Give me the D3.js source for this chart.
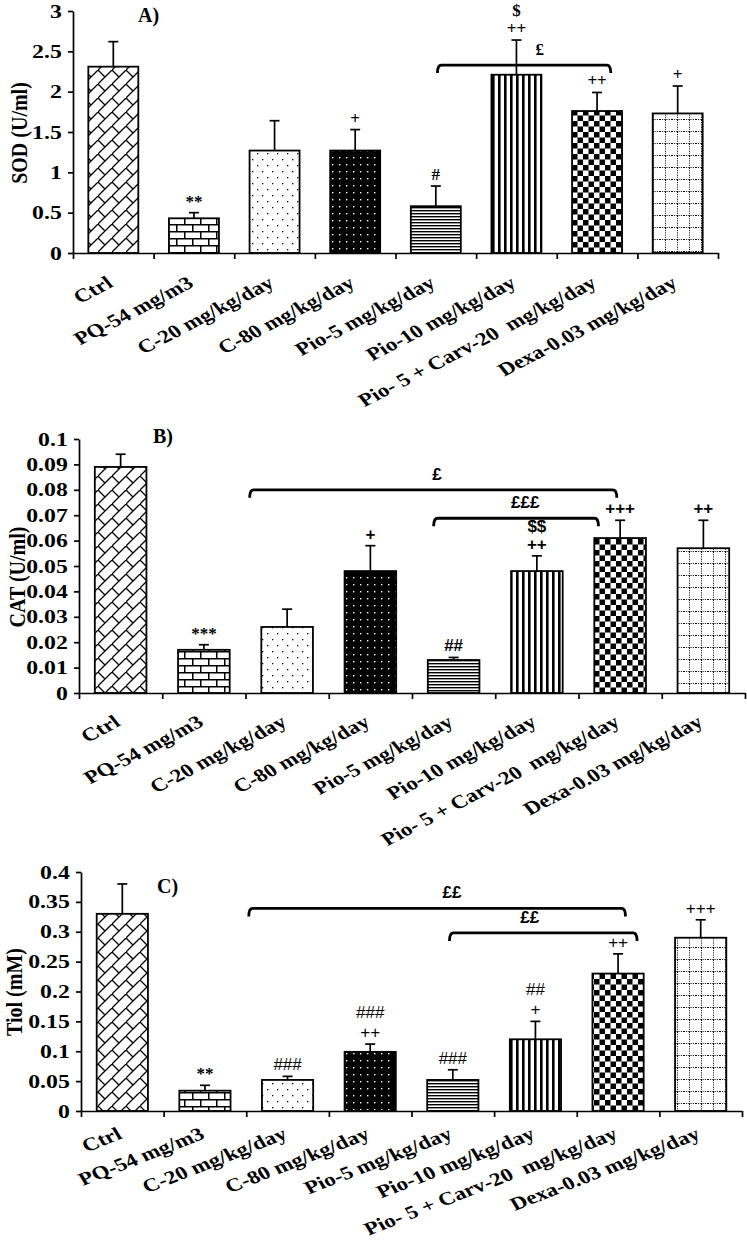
<!DOCTYPE html>
<html>
<head>
<meta charset="utf-8">
<script src="https://cdn.jsdelivr.net/npm/d3@7/dist/d3.min.js"></script>
<style>
  html, body { margin: 0; padding: 0; background: #fff; }
  svg { display: block; }
</style>
</head>
<body>
<div id="chart"></div>
<script>
// groups on the x axis
const categories = [
    'Ctrl',
    'PQ-54 mg/m3',
    'C-20 mg/kg/day',
    'C-80 mg/kg/day',
    'Pio-5 mg/kg/day',
    'Pio-10 mg/kg/day',
    'Pio- 5 + Carv-20  mg/kg/day',
    'Dexa-0.03 mg/kg/day'
];

// A) SOD (U/ml)
const sodMean = [2.31, 0.43, 1.27, 1.27, 0.58, 2.21, 1.76, 1.73];
const sodErr = [0.31, 0.07, 0.37, 0.26, 0.25, 0.43, 0.23, 0.34];
const sodTicks = [0, 0.5, 1, 1.5, 2, 2.5, 3];
const sodMarks = [[], ['**'], [], ['+'], ['#'], ['++', '$'], ['++'], ['+']];
const sodBrackets = [{ from: 4.52, to: 6.67, level: 2.33, labelAt: 5.79, label: '£' }];

// B) CAT (U/ml)
const catMean = [0.089, 0.017, 0.026, 0.048, 0.013, 0.048, 0.061, 0.057];
const catErr = [0.005, 0.002, 0.007, 0.010, 0.001, 0.006, 0.007, 0.011];
const catTicks = [0, 0.01, 0.02, 0.03, 0.04, 0.05, 0.06, 0.07, 0.08, 0.09, 0.1];
const catMarks = [[], ['***'], [], ['+'], ['##'], ['++', '$$'], ['+++'], ['++']];
const catBrackets = [
    { from: 2.05, to: 6.46, level: 0.080, labelAt: 4.30, label: '£' },
    { from: 4.26, to: 6.24, level: 0.0688, labelAt: 5.36, label: '£££' }
];

// C) Tiol (mM)
const tiolMean = [0.33, 0.034, 0.052, 0.099, 0.052, 0.12, 0.23, 0.29];
const tiolErr = [0.05, 0.009, 0.006, 0.013, 0.017, 0.03, 0.033, 0.03];
const tiolTicks = [0, 0.05, 0.1, 0.15, 0.2, 0.25, 0.3, 0.35, 0.4];
const tiolMarks = [[], ['**'], ['###'], ['++', '###'], ['###'], ['+', '##'], ['++'], ['+++']];
const tiolBrackets = [
    { from: 2.03, to: 6.59, level: 0.339, labelAt: 4.49, label: '££' },
    { from: 4.46, to: 6.73, level: 0.298, labelAt: 5.43, label: '££' }
];

const patternIds = ['diagBrick', 'hBrick', 'sparseDots', 'darkDots', 'hLines', 'vStripes', 'checker', 'dotGrid'];

const SERIF = '"Liberation Serif", "Times New Roman", serif';
const SANS = '"Liberation Sans", Arial, sans-serif';
// the source figure is a little wider than tall, text looks stretched sideways
const STRETCH = 1.25;

const panels = [
    { tag: 'A)', title: 'SOD (U/ml)', mean: sodMean, err: sodErr, ticks: sodTicks, marks: sodMarks,
        brackets: sodBrackets, left: 73, right: 718, top: 11, bottom: 253, tagX: 138, tagY: 22,
        titleX: 19, titleY: 133, angle: -33, labelDy: 33, markSize: 17, rowGap: 18,
        markFont: () => SERIF, markWeight: () => 'bold' },
    { tag: 'B)', title: 'CAT (U/ml)', mean: catMean, err: catErr, ticks: catTicks, marks: catMarks,
        brackets: catBrackets, left: 79, right: 745, top: 439, bottom: 693, tagX: 153, tagY: 443,
        titleX: 17, titleY: 577, angle: -33, labelDy: 32, markSize: 17, rowGap: 18,
        markFont: t => (t.startsWith('*') ? SERIF : SANS), markWeight: () => 'bold' },
    { tag: 'C)', title: 'Tiol (mM)', mean: tiolMean, err: tiolErr, ticks: tiolTicks, marks: tiolMarks,
        brackets: tiolBrackets, left: 81, right: 742, top: 872, bottom: 1111, tagX: 157, tagY: 893,
        titleX: 14, titleY: 992, angle: -26, labelDy: 27, markSize: 17, rowGap: 20,
        markFont: t => (t.startsWith('*') ? SERIF : SANS),
        markWeight: t => (t.startsWith('*') || t.startsWith('£') ? 'bold' : 'normal') }
];

const svg = d3.select('#chart')
    .append('svg')
    .attr('width', 747)
    .attr('height', 1241);

/**
 * Fill patterns, one per group.
 */
function definePatterns() {
    const defs = svg.append('defs');
    const pat = (id, w, h, bg) => {
        const p = defs.append('pattern')
            .attr('id', id)
            .attr('patternUnits', 'userSpaceOnUse')
            .attr('width', w)
            .attr('height', h);
        p.append('rect').attr('width', w).attr('height', h).attr('fill', bg);
        return p;
    };

    pat('diagBrick', 14, 14, '#fff')
        .append('path')
        .attr('d', 'M-1,15L15,-1M0,0L7,7')
        .attr('stroke', '#000')
        .attr('stroke-width', 1.3)
        .attr('fill', 'none');

    pat('hBrick', 16, 14, '#fff')
        .append('path')
        .attr('d', 'M0,0.75H16M0,7.75H16M0.75,0V7M8.75,7V14')
        .attr('stroke', '#000')
        .attr('stroke-width', 1.5)
        .attr('fill', 'none');

    const sd = pat('sparseDots', 10, 12, '#fff');
    sd.append('rect').attr('x', 2).attr('y', 3).attr('width', 1.3).attr('height', 1.3).attr('fill', '#000');
    sd.append('rect').attr('x', 7).attr('y', 9).attr('width', 1.3).attr('height', 1.3).attr('fill', '#000');

    pat('darkDots', 7, 7, '#000')
        .append('rect').attr('x', 3).attr('y', 3).attr('width', 1.4).attr('height', 1.4).attr('fill', '#fff');

    pat('hLines', 4, 3, '#fff')
        .append('rect').attr('y', 0).attr('width', 4).attr('height', 1.4).attr('fill', '#000');

    pat('vStripes', 6, 4, '#fff')
        .append('rect').attr('x', 0).attr('width', 2.6).attr('height', 4).attr('fill', '#000');

    const ch = pat('checker', 11, 11, '#fff');
    ch.append('rect').attr('width', 5.5).attr('height', 5.5).attr('fill', '#000');
    ch.append('rect').attr('x', 5.5).attr('y', 5.5).attr('width', 5.5).attr('height', 5.5).attr('fill', '#000');

    pat('dotGrid', 12, 12, '#fff')
        .append('path')
        .attr('d', 'M0,11.5H12M5.5,0V12')
        .attr('stroke', '#000')
        .attr('stroke-width', 1)
        .attr('stroke-dasharray', '1,1.2')
        .attr('fill', 'none');
}

/**
 * One bar chart panel.
 */
function drawPanel(p) {
    const g = svg.append('g');
    const n = categories.length;

    const x = d3.scaleBand()
        .domain(categories)
        .range([p.left, p.right])
        .paddingInner(0.38)
        .paddingOuter(0.19);
    const xPos = d3.scaleLinear().domain([0, n]).range([p.left, p.right]);
    const y = d3.scaleLinear()
        .domain([0, d3.max(p.ticks)])
        .range([p.bottom, p.top]);

    const rows = categories.map((c, i) => ({ c, i, mean: p.mean[i], err: p.err[i], marks: p.marks[i] }));

    // bars
    g.append('g')
        .selectAll('rect')
        .data(rows)
        .enter()
        .append('rect')
        .attr('x', d => x(d.c))
        .attr('y', d => y(d.mean))
        .attr('width', x.bandwidth())
        .attr('height', d => p.bottom - y(d.mean))
        .attr('fill', d => `url(#${patternIds[d.i]})`)
        .attr('stroke', '#000')
        .attr('stroke-width', 1.8);

    // error bars (upper only)
    const eb = g.append('g')
        .attr('stroke', '#000')
        .attr('stroke-width', 1.7)
        .selectAll('g')
        .data(rows)
        .enter()
        .append('g')
        .attr('transform', d => `translate(${x(d.c) + x.bandwidth() / 2},0)`);
    eb.append('line')
        .attr('y1', d => y(d.mean))
        .attr('y2', d => y(d.mean + d.err));
    eb.append('line')
        .attr('x1', -5)
        .attr('x2', 5)
        .attr('y1', d => y(d.mean + d.err))
        .attr('y2', d => y(d.mean + d.err));

    // significance marks, stacked above the error bar
    const marks = [];
    rows.forEach(d => d.marks.forEach((t, k) => marks.push({ d, t, k })));
    g.append('g')
        .selectAll('text')
        .data(marks)
        .enter()
        .append('text')
        .attr('x', m => x(m.d.c) + x.bandwidth() / 2)
        .attr('y', m => y(m.d.mean + m.d.err) - 12 - m.k * p.rowGap)
        .attr('dy', '0.35em')
        .attr('text-anchor', 'middle')
        .attr('fill', '#000')
        .style('font-family', m => p.markFont(m.t))
        .style('font-weight', m => p.markWeight(m.t))
        .style('font-size', `${p.markSize}px`)
        .text(m => m.t);

    // comparison brackets
    const br = g.append('g')
        .selectAll('g')
        .data(p.brackets)
        .enter()
        .append('g');
    br.append('path')
        .attr('d', b => {
            const x1 = xPos(b.from);
            const x2 = xPos(b.to);
            const yb = y(b.level);
            return `M${x1},${yb + 8}Q${x1},${yb} ${x1 + 4},${yb}L${x2 - 4},${yb}Q${x2},${yb} ${x2},${yb + 8}`;
        })
        .attr('fill', 'none')
        .attr('stroke', '#000')
        .attr('stroke-width', 2.8);
    br.append('text')
        .attr('x', b => xPos(b.labelAt))
        .attr('y', b => y(b.level) - 16)
        .attr('dy', '0.35em')
        .attr('text-anchor', 'middle')
        .attr('fill', '#000')
        .style('font-family', p.tag === 'A)' ? SERIF : SANS)
        .style('font-weight', 'bold')
        .style('font-size', `${p.markSize}px`)
        .text(b => b.label);

    // axes
    const yAxis = d3.axisLeft(y)
        .tickValues(p.ticks)
        .tickSize(5)
        .tickSizeOuter(0)
        .tickPadding(4)
        .tickFormat(d => `${d}`);
    const ya = g.append('g')
        .attr('transform', `translate(${p.left},0)`)
        .call(yAxis);

    const xAxis = d3.axisBottom(xPos)
        .tickValues(d3.range(n + 1))
        .tickSize(6)
        .tickSizeOuter(0)
        .tickFormat('');
    const xa = g.append('g')
        .attr('transform', `translate(0,${p.bottom})`)
        .call(xAxis);

    [ya, xa].forEach(a => {
        a.selectAll('path, line').attr('stroke', '#000').attr('stroke-width', 1.7);
    });
    ya.selectAll('text')
        .attr('fill', '#000')
        .attr('transform', `scale(${STRETCH},1)`)
        .style('font-family', SERIF)
        .style('font-weight', 'bold')
        .style('font-size', '19px');

    // rotated group labels
    g.append('g')
        .selectAll('text')
        .data(categories)
        .enter()
        .append('text')
        .attr('transform', c => `translate(${x(c) + x.bandwidth() / 2 + 1},${p.bottom + p.labelDy}) `
            + `scale(${STRETCH},1) rotate(${p.angle})`)
        .attr('text-anchor', 'end')
        .attr('fill', '#000')
        .style('white-space', 'pre')
        .style('font-family', SERIF)
        .style('font-weight', 'bold')
        .style('font-size', '18.5px')
        .text(c => c);

    // panel tag and axis title
    g.append('text')
        .attr('x', p.tagX)
        .attr('y', p.tagY)
        .attr('fill', '#000')
        .style('font-family', SERIF)
        .style('font-weight', 'bold')
        .style('font-size', '20px')
        .text(p.tag);

    g.append('text')
        .attr('transform', `translate(${p.titleX},${p.titleY}) scale(1.15,1) rotate(-90)`)
        .attr('text-anchor', 'middle')
        .attr('dy', '0.35em')
        .attr('fill', '#000')
        .style('font-family', SERIF)
        .style('font-weight', 'bold')
        .style('font-size', '20px')
        .text(p.title);
}

definePatterns();
panels.forEach(drawPanel);
</script>
</body>
</html>
